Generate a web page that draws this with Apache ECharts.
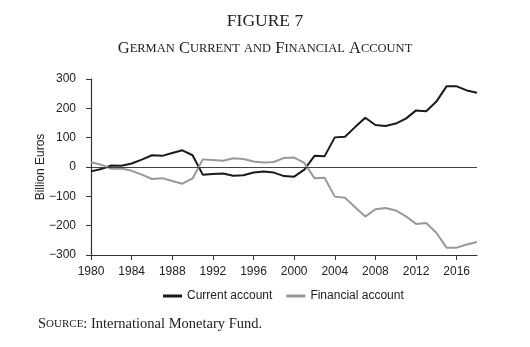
<!DOCTYPE html>
<html>
<head>
<meta charset="utf-8">
<script src="https://cdn.jsdelivr.net/npm/echarts@6/dist/echarts.min.js"></script>
<style>
html,body{margin:0;padding:0;background:#fff;}
#chart{width:530px;height:347px;}
</style>
</head>
<body>
<div id="chart"></div>
<script>
const years = [1980,1981,1982,1983,1984,1985,1986,1987,1988,1989,1990,1991,1992,1993,1994,1995,1996,1997,1998,1999,2000,2001,2002,2003,2004,2005,2006,2007,2008,2009,2010,2011,2012,2013,2014,2015,2016,2017,2018];
const currentAccount = [-15,-7,5,4,12,25,40,38,48,57,40,-26,-24,-22,-30,-28,-19,-15,-19,-31,-33,-9,38,37,101,103,136,168,143,140,148,165,193,190,223,275,275,261,253];
const financialAccount = [16,8,-6,-5,-13,-26,-41,-38,-48,-57,-39,26,24,21,30,27,19,15,17,31,32,14,-38,-37,-101,-105,-137,-169,-144,-140,-148,-168,-194,-191,-224,-275,-275,-264,-256];
const xTicks = [1980,1984,1988,1992,1996,2000,2004,2008,2012,2016];
const yTicks = [-300,-200,-100,0,100,200,300];
const seriesNames = ['Current account','Financial account'];

const chart = echarts.init(document.getElementById('chart'), null, {renderer:'canvas'});
const serif = '"Liberation Serif", "DejaVu Serif", serif';
const sans = '"Liberation Sans", Arial, sans-serif';
const fmtY = v => v < 0 ? '\u2212' + Math.abs(v) : String(v);

chart.setOption({
  animation: false,
  backgroundColor: '#fff',
  title: [
    {text: 'FIGURE 7', left: 'center', top: 7,
     textStyle: {fontFamily: serif, fontSize: 17.5, fontWeight: 'normal', color: '#222'}},
    {text: '{c|G}{s|ERMAN} {c|C}{s|URRENT} {s|AND} {c|F}{s|INANCIAL} {c|A}{s|CCOUNT}', left: 'center', top: 35,
     textStyle: {fontFamily: serif, fontSize: 16.5, fontWeight: 'normal', color: '#222',
       rich: {c: {fontFamily: serif, fontSize: 16.5, color: '#222'}, s: {fontFamily: serif, fontSize: 12.5, color: '#222'}}}},
    {text: '{c|S}{s|OURCE}{c|: International Monetary Fund.}', left: 33, top: 312,
     textStyle: {fontFamily: serif, fontSize: 14.5, fontWeight: 'normal', color: '#222',
       rich: {c: {fontFamily: serif, fontSize: 14.5, color: '#222'}, s: {fontFamily: serif, fontSize: 11, color: '#222'}}}}
  ],
  legend: {
    top: 285, left: 158,
    itemWidth: 19, itemHeight: 3, itemGap: 14, icon: 'rect',
    textStyle: {fontFamily: sans, fontSize: 12, color: '#222'},
    data: seriesNames
  },
  grid: {left: 91, right: 53, top: 79, bottom: 92, containLabel: false},
  xAxis: {
    type: 'value', min: 1980, max: 2018, interval: 4,
    splitLine: {show: false},
    axisLine: {onZero: false, lineStyle: {color: '#333', width: 1.2}},
    axisTick: {show: true, length: 5, customValues: xTicks, lineStyle: {color: '#333'}},
    axisLabel: {customValues: xTicks, fontFamily: sans, fontSize: 12, color: '#222', margin: 11, formatter: v => String(v)}
  },
  yAxis: {
    type: 'value', min: -300, max: 300, interval: 100,
    name: 'Billion Euros', nameLocation: 'middle', nameGap: 44, nameRotate: 90, nameMoveOverlap: false,
    nameTextStyle: {fontFamily: sans, fontSize: 12, color: '#222'},
    splitLine: {show: false},
    axisLine: {show: true, lineStyle: {color: '#333', width: 1.2}},
    axisTick: {show: true, length: 5, customValues: yTicks, lineStyle: {color: '#333'}},
    axisLabel: {customValues: yTicks, fontFamily: sans, fontSize: 12, color: '#222', margin: 15, formatter: fmtY}
  },
  series: [
    {name: seriesNames[0], type: 'line', showSymbol: false, symbol: 'none',
     data: years.map((y, i) => [y, currentAccount[i]]),
     lineStyle: {color: '#1a1a1a', width: 2}, itemStyle: {color: '#1a1a1a'},
     markLine: {silent: true, symbol: 'none', label: {show: false},
       lineStyle: {color: '#444', width: 1, type: 'solid'}, data: [{yAxis: 0}]}},
    {name: seriesNames[1], type: 'line', showSymbol: false, symbol: 'none',
     data: years.map((y, i) => [y, financialAccount[i]]),
     lineStyle: {color: '#999', width: 2}, itemStyle: {color: '#999'}}
  ]
});
</script>
</body>
</html>
